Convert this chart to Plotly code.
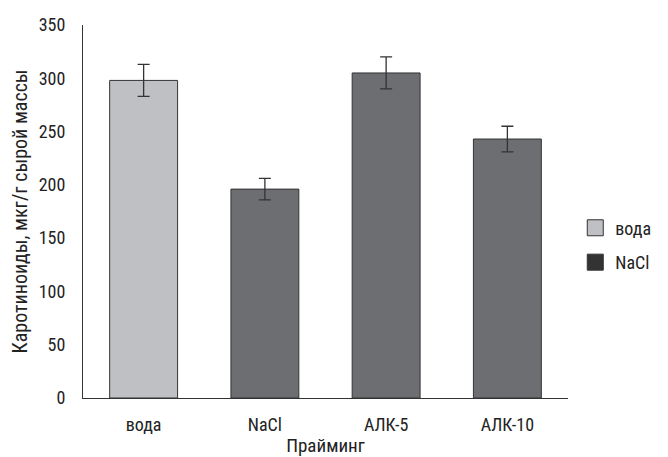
import plotly.graph_objects as go

categories = ["вода", "NaCl", "АЛК-5", "АЛК-10"]
values = [298, 196, 305, 243]
errors = [15, 10, 15, 12]
bar_colors = ["#bfc0c4", "#6d6e72", "#6d6e72", "#6d6e72"]
legend_names = ["вода", "NaCl"]
legend_colors = ["#bfc0c4", "#333333"]

FONT = "Roboto Condensed, Liberation Sans Narrow, sans-serif"

fig = go.Figure()
fig.add_trace(go.Bar(
    x=categories, y=values,
    marker=dict(color=bar_colors, line=dict(color="#333333", width=1)),
    error_y=dict(type="data", array=errors, color="#333333", thickness=1.3, width=6),
    showlegend=False, width=0.56,
))
for n, c in zip(legend_names, legend_colors):
    fig.add_trace(go.Scatter(
        x=[None], y=[None], mode="markers", name=n, legendgroup=n,
        marker=dict(symbol="square", size=20, color=c, line=dict(color="#333333", width=1)),
    ))

fig.update_layout(
    width=668, height=457,
    margin=dict(l=83, r=93, t=25, b=59),
    plot_bgcolor="white", paper_bgcolor="white",
    font=dict(family=FONT, size=18, color="#222222"),
    barmode="overlay",
    legend=dict(x=1.015, y=0.41, xanchor="left", yanchor="middle",
                font=dict(size=18), itemsizing="trace", tracegroupgap=8,
                borderwidth=0),
    xaxis=dict(title=dict(text="Прайминг", standoff=6, font=dict(size=19)),
               tickfont=dict(size=18), showline=True, linecolor="#333333",
               linewidth=1.2, ticks="", showgrid=False, ticklabelstandoff=10,
               automargin=False),
    yaxis=dict(title=dict(text="Каротиноиды, мкг/г сырой массы", standoff=5, font=dict(size=20)),
               tickfont=dict(size=18),
               range=[0, 350], dtick=50, showline=True, linecolor="#333333",
               linewidth=1.2, ticks="", showgrid=False, zeroline=False,
               ticklabelstandoff=13, automargin=False),
)
fig.write_html("out.html")
